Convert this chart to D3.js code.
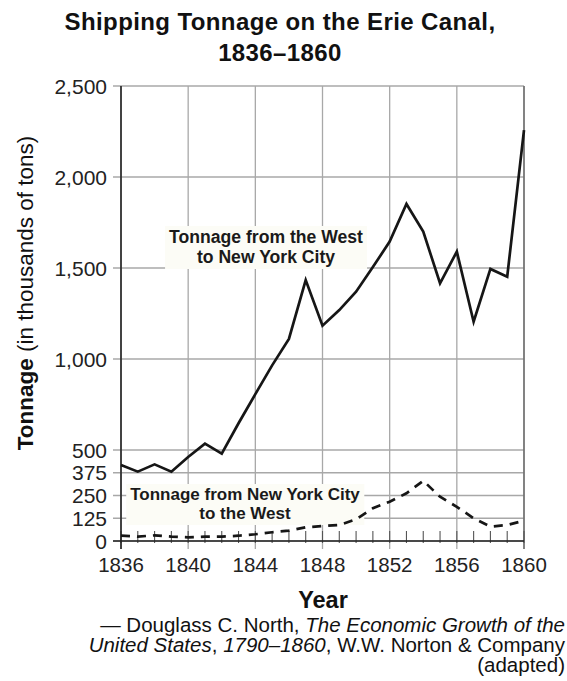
<!DOCTYPE html>
<html>
<head>
<meta charset="utf-8">
<script src="https://cdnjs.cloudflare.com/ajax/libs/d3/7.8.5/d3.min.js"></script>
<style>
  html, body { margin: 0; padding: 0; background: #fff; }
  svg { display: block; font-family: "Liberation Sans", Arial, Helvetica, sans-serif; }
</style>
</head>
<body>
<div id="chart"></div>
<script>
// Erie Canal shipping tonnage (thousands of tons)
const years = [1836, 1837, 1838, 1839, 1840, 1841, 1842, 1843, 1844, 1845, 1846, 1847, 1848,
               1849, 1850, 1851, 1852, 1853, 1854, 1855, 1856, 1857, 1858, 1859, 1860];
const westToNYC = [418, 381, 421, 381, 462, 535, 480, 647, 807, 965, 1110, 1434, 1183,
                   1269, 1370, 1505, 1645, 1852, 1700, 1416, 1590, 1205, 1495, 1452, 2258];
const nycToWest = [29, 24, 31, 24, 20, 24, 24, 29, 37, 48, 57, 75, 82,
                   88, 119, 180, 216, 262, 331, 243, 188, 125, 79, 88, 112];

const xTicks = [1836, 1840, 1844, 1848, 1852, 1856, 1860];
const yTicks = [0, 125, 250, 375, 500, 1000, 1500, 2000, 2500];
const titleLines = ['Shipping Tonnage on the Erie Canal,', '1836\u20131860'];

const W = 567, H = 681;
const svg = d3.select('#chart').append('svg')
  .attr('width', W).attr('height', H);

const x = d3.scaleLinear().domain([1836, 1860]).range([121, 524]);
const y = d3.scaleLinear().domain([0, 2500]).range([541, 86]);

// ── grid ──
const grid = svg.append('g');
grid.selectAll('line.h')
  .data(yTicks)
  .enter().append('line')
  .attr('x1', x.range()[0] - 8).attr('x2', x.range()[1])
  .attr('y1', d => y(d)).attr('y2', d => y(d))
  .attr('stroke', '#a8a8a8').attr('stroke-width', 1.3);

grid.selectAll('line.v')
  .data(xTicks)
  .enter().append('line')
  .attr('x1', d => x(d)).attr('x2', d => x(d))
  .attr('y1', y.range()[1]).attr('y2', y(0) + 8)
  .attr('stroke', '#a8a8a8').attr('stroke-width', 1.3);

// right border
svg.append('line')
  .attr('x1', x(1860)).attr('x2', x(1860))
  .attr('y1', y.range()[1]).attr('y2', y(0) + 8)
  .attr('stroke', '#666').attr('stroke-width', 1.4);

// yearly minor ticks
svg.append('g').selectAll('line')
  .data(years)
  .enter().append('line')
  .attr('x1', d => x(d)).attr('x2', d => x(d))
  .attr('y1', y(0) - 10).attr('y2', y(0) + 2)
  .attr('stroke', '#555').attr('stroke-width', 1.1);

// ── label boxes (drawn before lines) ──
function labelBox(lines, cx, y0, lh, fs) {
  const g = svg.append('g');
  const bg = g.append('rect').attr('fill', '#fcfcf6');
  const t = g.append('text')
    .attr('text-anchor', 'middle')
    .attr('font-size', fs).attr('font-weight', 'bold')
    .attr('fill', '#1a1a1a');
  lines.forEach((s, i) => {
    t.append('tspan').attr('x', cx).attr('y', y0 + i * lh).text(s);
  });
  const b = t.node().getBBox();
  bg.attr('x', b.x - 4).attr('y', b.y - 1).attr('width', b.width + 8).attr('height', b.height + 3);
}
labelBox(['Tonnage from the West', 'to New York City'], 266, 243, 20, 17.6);
labelBox(['Tonnage from New York City', 'to the West'], 245, 500, 19, 17);

// ── axes lines ──
svg.append('line')
  .attr('x1', x.range()[0]).attr('x2', x.range()[0])
  .attr('y1', y.range()[1]).attr('y2', y(0) + 8)
  .attr('stroke', '#222').attr('stroke-width', 1.6);
svg.append('line')
  .attr('x1', x.range()[0] - 8).attr('x2', x(1860))
  .attr('y1', y(0)).attr('y2', y(0))
  .attr('stroke', '#222').attr('stroke-width', 1.6);

// ── series ──
const line = d3.line().x(d => x(d[0])).y(d => y(d[1]));

svg.append('path')
  .datum(d3.zip(years, westToNYC))
  .attr('d', line)
  .attr('fill', 'none')
  .attr('stroke', '#161616')
  .attr('stroke-width', 2.7)
  .attr('stroke-linejoin', 'miter');

svg.append('path')
  .datum(d3.zip(years, nycToWest))
  .attr('d', line)
  .attr('fill', 'none')
  .attr('stroke', '#161616')
  .attr('stroke-width', 2.7)
  .attr('stroke-dasharray', '9,7');

// ── tick labels ──
svg.append('g').selectAll('text')
  .data(yTicks)
  .enter().append('text')
  .attr('x', 107).attr('y', d => y(d))
  .attr('dy', '0.36em')
  .attr('text-anchor', 'end')
  .attr('font-size', 21)
  .attr('fill', '#222')
  .text(d => d3.format(',')(d));

svg.append('g').selectAll('text')
  .data(xTicks)
  .enter().append('text')
  .attr('x', d => x(d)).attr('y', 572)
  .attr('text-anchor', 'middle')
  .attr('font-size', 20.5)
  .attr('fill', '#222')
  .text(d => d);

// ── titles ──
svg.append('g').selectAll('text')
  .data(titleLines)
  .enter().append('text')
  .attr('x', 280).attr('y', (d, i) => 30 + i * 31)
  .attr('text-anchor', 'middle')
  .attr('font-size', 24).attr('font-weight', 'bold')
  .attr('letter-spacing', 0.4)
  .attr('fill', '#111')
  .text(d => d);

svg.append('text')
  .attr('x', 323).attr('y', 608)
  .attr('text-anchor', 'middle')
  .attr('font-size', 23.5).attr('font-weight', 'bold')
  .attr('fill', '#111')
  .text('Year');

const yl = svg.append('text')
  .attr('transform', 'translate(33,293) rotate(-90)')
  .attr('text-anchor', 'middle')
  .attr('font-size', 22.5)
  .attr('fill', '#111');
yl.append('tspan').attr('font-weight', 'bold').text('Tonnage');
yl.append('tspan').text(' (in thousands of tons)');

// ── source ──
const src = svg.append('text')
  .attr('text-anchor', 'end')
  .attr('font-size', 20.5)
  .attr('fill', '#111');
const l1 = src.append('tspan').attr('x', 565).attr('y', 632);
l1.append('tspan').text('\u2014 Douglass C. North, ');
l1.append('tspan').attr('font-style', 'italic').text('The Economic Growth of the');
const l2 = src.append('tspan').attr('x', 565).attr('y', 652);
l2.append('tspan').attr('font-style', 'italic').text('United States');
l2.append('tspan').text(', ');
l2.append('tspan').attr('font-style', 'italic').text('1790\u20131860');
l2.append('tspan').text(', W.W. Norton & Company');
src.append('tspan').attr('x', 565).attr('y', 672).text('(adapted)');
</script>
</body>
</html>
